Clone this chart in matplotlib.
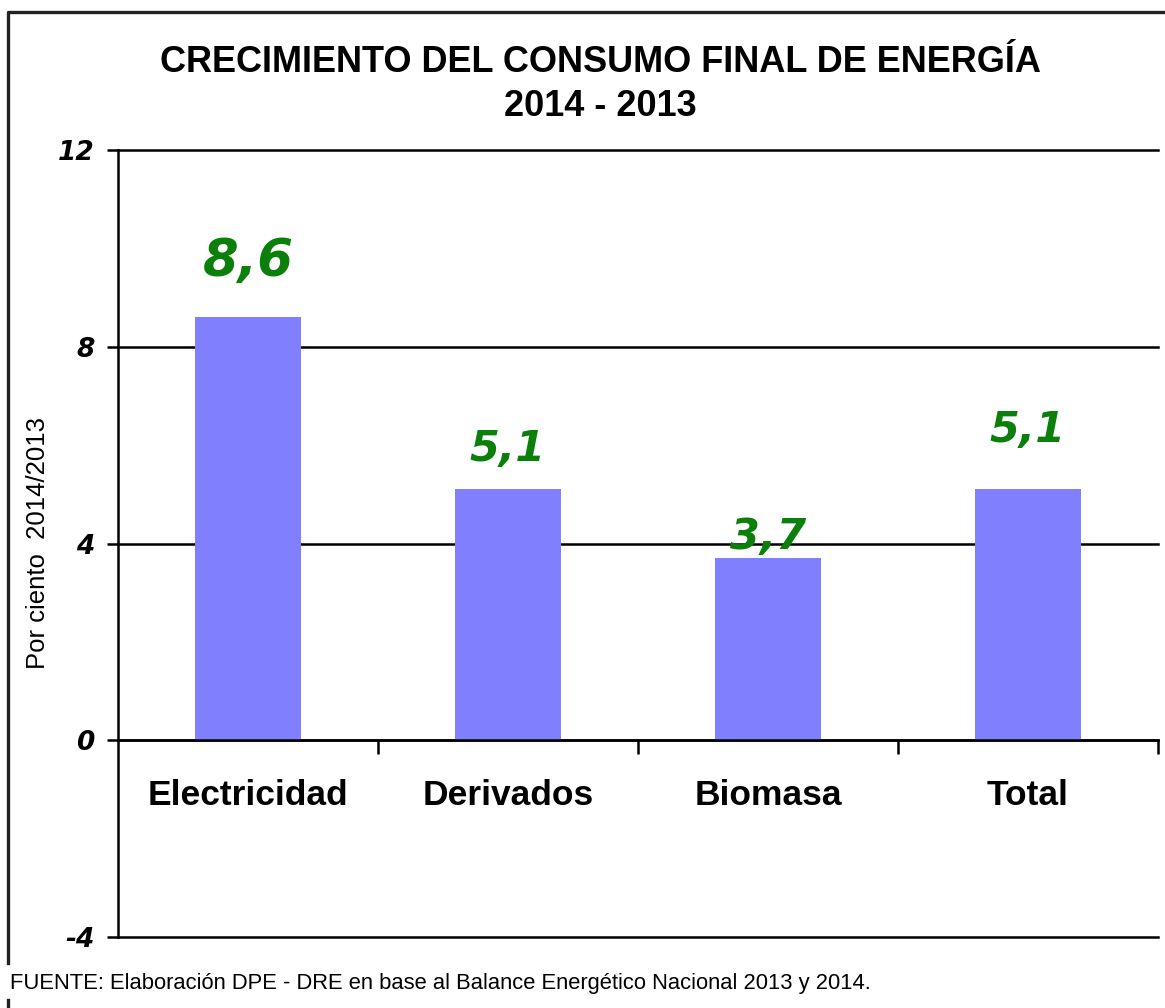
"""
Crecimiento del consumo final de energía 2014 - 2013 (bar chart)
"""

import matplotlib
matplotlib.use('Agg')
import matplotlib.pyplot as plt
from matplotlib.lines import Line2D

categories = ['Electricidad', 'Derivados', 'Biomasa', 'Total']
growth = [8.6, 5.1, 3.7, 5.1]
value_labels = ['8,6', '5,1', '3,7', '5,1']
# height (in data units) where each value label was placed by hand
label_heights = [9.72, 5.93, 4.13, 6.30]
label_sizes = [37, 31, 31, 31]
y_ticks = [-4, 0, 4, 8, 12]

W, H = 1165, 1008
plt.rcParams['font.family'] = ['Liberation Sans', 'DejaVu Sans']

fig = plt.figure(figsize=(W / 100, H / 100), dpi=100)

# outer frame of the chart object (cut off at right, broken by the footer)
frame = dict(transform=fig.transFigure, color='#222222', linewidth=2.4)
fig.lines.append(Line2D([8 / W, 8 / W, 1.0], [1 - 963 / H, 1 - 12 / H, 1 - 12 / H], **frame))
fig.lines.append(Line2D([8 / W, 8 / W], [0.0, 1 - 1000 / H], **frame))

ax = fig.add_axes([118 / W, (H - 937) / H, 1040 / W, 787 / H])
ax.bar(range(len(categories)), growth, width=0.41, color='#8080FF', zorder=3)

ax.set_xlim(-0.5, 3.5)
ax.set_ylim(-4, 12)
ax.set_yticks(y_ticks)
ax.set_yticklabels([str(t) for t in y_ticks], fontsize=19,
                   fontweight='bold', fontstyle='italic', family='DejaVu Sans')
ax.yaxis.grid(True, color='black', linewidth=1.8, zorder=1)
for gl in ax.get_ygridlines():
    gl.set_clip_on(False)
ax.tick_params(axis='y', length=8, width=1.8, pad=9)

for side in ['top', 'right']:
    ax.spines[side].set_visible(False)
ax.spines['left'].set_linewidth(1.8)
ax.spines['bottom'].set_position(('data', 0))
ax.spines['bottom'].set_linewidth(1.8)
ax.spines['bottom'].set_zorder(4)
ax.set_xticks([0.5, 1.5, 2.5, 3.5])
ax.set_xticklabels([])
ax.tick_params(axis='x', length=10, width=1.8, direction='out')

for i, cat in enumerate(categories):
    ax.text(i, -1.12, cat, ha='center', va='center', fontsize=25.5,
            fontweight='bold')

for i, lab in enumerate(value_labels):
    ax.text(i, label_heights[i], lab, ha='center', va='center',
            fontsize=label_sizes[i], fontweight='bold', fontstyle='italic',
            family='DejaVu Sans', color='#0A800A', zorder=5)

fig.text(38 / W, 1 - 543 / H, 'Por ciento  2014/2013', rotation=90,
         ha='center', va='center', fontsize=18.5)

fig.text(600 / W, 1 - 62 / H, 'CRECIMIENTO DEL CONSUMO FINAL DE ENERGÍA',
         ha='center', va='center', fontsize=26, fontweight='bold')
fig.text(600 / W, 1 - 107 / H, '2014 - 2013',
         ha='center', va='center', fontsize=26, fontweight='bold')

fig.text(10 / W, 1 - 984 / H,
         'FUENTE: Elaboración DPE - DRE en base al Balance Energético Nacional 2013 y 2014.',
         ha='left', va='center', fontsize=15.8)

fig.savefig('out.png', dpi=100)
